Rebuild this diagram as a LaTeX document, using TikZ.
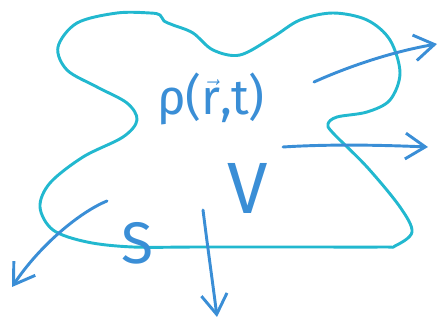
\documentclass[tikz,border=0pt]{standalone}
\usepackage{fontspec}
\setsansfont{Fira Sans}
\usepackage{tikz}
\usetikzlibrary{arrows.meta,positioning}
\definecolor{blobcyan}{HTML}{22B8CF}
\definecolor{fluxblue}{HTML}{3A8ED6}
\tikzset{
  blob/.style={draw=blobcyan, line width=2.5pt, line cap=round, line join=round},
  flux/.style={draw=fluxblue, line width=2.5pt, line cap=round, -{Straight Barb[length=17pt, width=22pt, line width=2.5pt]}},
  hand/.style={text=fluxblue, font=\sffamily, inner sep=0pt}
}

\begin{document}
\begin{tikzpicture}[x=0.03cm, y=-0.03cm]
  \useasboundingbox (0,0) rectangle (442,320);

  % the volume V with its surface S
  \draw[blob] plot[smooth cycle, tension=0.55] coordinates {
    (117,13) (150,13) (160,15) (164,21) (173,25) (193,33) (213,50) (240,55)
    (273,37) (300,20) (333,13) (367,20) (390,40) (400,73) (390,100) (367,112)
    (337,117) (328,124) (333,133) (367,167) (400,207) (412,232) (395,246)
    (383,247) (300,247) (200,247) (133,247) (87,242) (53,230) (40,207)
    (50,183) (83,157) (123,137) (137,120) (127,103) (97,87) (67,70) (58,47)
    (77,23)};

  % labels
  \node[hand, font=\sffamily\fontsize{42}{42}\selectfont] (rho) at (211,99) {ρ($\vec{\mathsf{r}}$,t)};
  \node[hand, font=\sffamily\fontsize{62}{62}\selectfont] (vol) at (248,188) {V};
  \node[hand, font=\sffamily\fontsize{50}{50}\selectfont] (surf) at (137,243) {S};

  % flux arrows leaving through S
  \coordinate (f1a) at (314,82);  \coordinate (f1b) at (437,44);
  \coordinate (f2a) at (283,147); \coordinate (f2b) at (428,147);
  \coordinate (f3a) at (107,201); \coordinate (f3b) at (12,287);
  \coordinate (f4a) at (203,210); \coordinate (f4b) at (217,317);

  \draw[flux] (f1a) .. controls (345,68) and (390,52) .. (f1b);
  \draw[flux] (f2a) .. controls (330,144) and (380,145) .. (f2b);
  \draw[flux] (f3a) .. controls (80,212) and (40,245) .. (f3b);
  \draw[flux] (f4a) .. controls (208,250) and (213,285) .. (f4b);
\end{tikzpicture}
\end{document}
